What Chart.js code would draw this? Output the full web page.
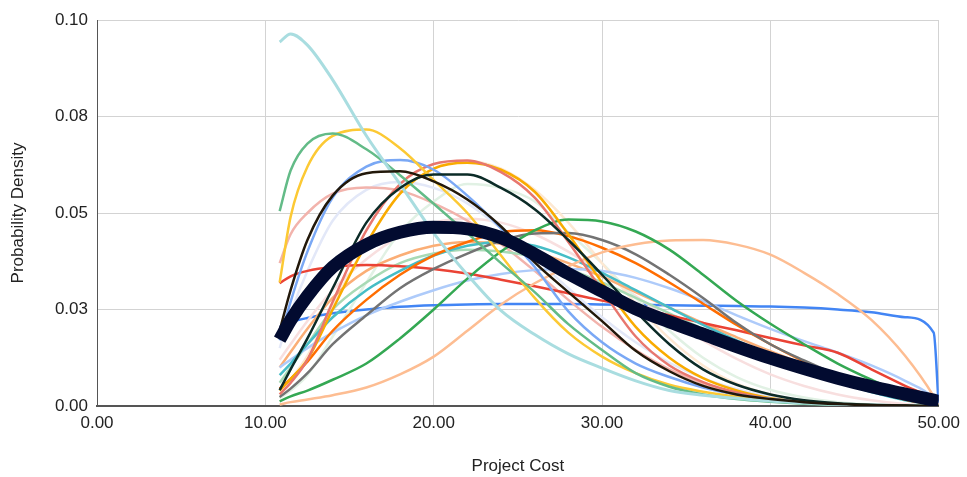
<!DOCTYPE html>
<html>
<head>
<meta charset="utf-8">
<script src="https://cdn.jsdelivr.net/npm/chart.js@4.4.1/dist/chart.umd.min.js"></script>
<style>
  html, body { margin: 0; padding: 0; background: #fff; }
  #wrap { width: 967px; height: 477px; }
</style>
</head>
<body>
<div id="wrap"><canvas id="cost"></canvas></div>
<script>
// project cost sample points
var costs = [10.85, 11.5, 12.5, 14, 16, 18, 20, 22, 24, 26, 28, 30, 32, 34, 36, 38, 40, 42, 44, 46, 48, 49.7, 50];

var yTickLabels = ['0.00', '0.03', '0.05', '0.08', '0.10'];

// density curves
var combined   = [0.0172, 0.0222, 0.0285, 0.0360, 0.0418, 0.0450, 0.0463, 0.0459, 0.0436, 0.0393, 0.0343, 0.0297, 0.0252, 0.0218, 0.0186, 0.0154, 0.0124, 0.0097, 0.0072, 0.0050, 0.0031, 0.0015, 0.0012];
var blueFlat   = [0.0205, 0.0217, 0.0228, 0.0240, 0.0250, 0.0257, 0.0261, 0.0263, 0.0264, 0.0264, 0.0264, 0.0263, 0.0262, 0.0261, 0.0260, 0.0259, 0.0258, 0.0255, 0.0250, 0.0243, 0.0230, 0.0190, 0.0000];
var peach      = [0.0004, 0.0010, 0.0017, 0.0028, 0.0048, 0.0082, 0.0128, 0.0195, 0.0263, 0.0318, 0.0362, 0.0398, 0.0419, 0.0429, 0.0430, 0.0418, 0.0392, 0.0345, 0.0290, 0.0223, 0.0130, 0.0025, 0.0000];
var green      = [0.0012, 0.0025, 0.0040, 0.0068, 0.0110, 0.0175, 0.0250, 0.0330, 0.0400, 0.0455, 0.0483, 0.0478, 0.0452, 0.0405, 0.0340, 0.0272, 0.0213, 0.0160, 0.0110, 0.0068, 0.0030, 0.0005, 0.0000];
var midGreen   = [0.0505, 0.0610, 0.0680, 0.0706, 0.0665, 0.0598, 0.0524, 0.0448, 0.0370, 0.0295, 0.0212, 0.0145, 0.0085, 0.0050, 0.0030, 0.0018, 0.0011, 0.0006, 0.0003, 0.0001, 0.0000, 0.0000, 0.0000];
var yellow     = [0.0320, 0.0490, 0.0620, 0.0700, 0.0716, 0.0668, 0.0585, 0.0500, 0.0390, 0.0280, 0.0190, 0.0128, 0.0085, 0.0055, 0.0037, 0.0024, 0.0015, 0.0009, 0.0005, 0.0002, 0.0001, 0.0000, 0.0000];
var cornflower = [0.0170, 0.0270, 0.0400, 0.0540, 0.0620, 0.0637, 0.0612, 0.0545, 0.0460, 0.0360, 0.0245, 0.0165, 0.0110, 0.0075, 0.0048, 0.0030, 0.0018, 0.0010, 0.0005, 0.0002, 0.0001, 0.0000, 0.0000];
var blackA     = [0.0195, 0.0300, 0.0430, 0.0545, 0.0603, 0.0608, 0.0582, 0.0535, 0.0465, 0.0372, 0.0295, 0.0220, 0.0143, 0.0090, 0.0052, 0.0030, 0.0018, 0.0010, 0.0005, 0.0002, 0.0001, 0.0000, 0.0000];
var blackB     = [0.0041, 0.0095, 0.0175, 0.0305, 0.0475, 0.0565, 0.0600, 0.0600, 0.0565, 0.0510, 0.0430, 0.0340, 0.0245, 0.0160, 0.0095, 0.0055, 0.0030, 0.0015, 0.0007, 0.0003, 0.0001, 0.0000, 0.0000];
var salmon     = [0.0030, 0.0060, 0.0120, 0.0270, 0.0455, 0.0575, 0.0627, 0.0636, 0.0606, 0.0540, 0.0425, 0.0300, 0.0180, 0.0105, 0.0062, 0.0035, 0.0018, 0.0009, 0.0004, 0.0002, 0.0001, 0.0000, 0.0000];
var amber      = [0.0040, 0.0070, 0.0120, 0.0250, 0.0420, 0.0550, 0.0615, 0.0630, 0.0612, 0.0555, 0.0445, 0.0320, 0.0205, 0.0125, 0.0072, 0.0040, 0.0020, 0.0010, 0.0004, 0.0002, 0.0001, 0.0000, 0.0000];
var pink       = [0.0370, 0.0445, 0.0500, 0.0550, 0.0566, 0.0558, 0.0525, 0.0480, 0.0420, 0.0350, 0.0275, 0.0205, 0.0145, 0.0095, 0.0058, 0.0034, 0.0019, 0.0010, 0.0005, 0.0002, 0.0001, 0.0000, 0.0000];
var red        = [0.0318, 0.0336, 0.0350, 0.0360, 0.0365, 0.0362, 0.0355, 0.0343, 0.0327, 0.0310, 0.0292, 0.0273, 0.0255, 0.0235, 0.0215, 0.0196, 0.0176, 0.0157, 0.0138, 0.0095, 0.0052, 0.0015, 0.0000];
var grey       = [0.0023, 0.0045, 0.0085, 0.0160, 0.0235, 0.0305, 0.0355, 0.0395, 0.0428, 0.0447, 0.0448, 0.0430, 0.0393, 0.0340, 0.0280, 0.0215, 0.0160, 0.0118, 0.0080, 0.0046, 0.0018, 0.0003, 0.0000];
var orange     = [0.0045, 0.0070, 0.0115, 0.0195, 0.0275, 0.0340, 0.0390, 0.0425, 0.0450, 0.0455, 0.0440, 0.0410, 0.0370, 0.0320, 0.0265, 0.0210, 0.0160, 0.0115, 0.0075, 0.0042, 0.0017, 0.0003, 0.0000];
var teal       = [0.0080, 0.0110, 0.0160, 0.0230, 0.0300, 0.0350, 0.0390, 0.0415, 0.0425, 0.0415, 0.0385, 0.0345, 0.0300, 0.0255, 0.0210, 0.0170, 0.0130, 0.0095, 0.0063, 0.0036, 0.0015, 0.0003, 0.0000];
var lightBlue  = [0.0100, 0.0120, 0.0150, 0.0190, 0.0235, 0.0270, 0.0300, 0.0325, 0.0342, 0.0352, 0.0355, 0.0350, 0.0332, 0.0305, 0.0272, 0.0235, 0.0200, 0.0168, 0.0138, 0.0105, 0.0065, 0.0020, 0.0000];
var lightGreen = [0.0060, 0.0100, 0.0160, 0.0250, 0.0320, 0.0370, 0.0395, 0.0405, 0.0400, 0.0385, 0.0355, 0.0320, 0.0280, 0.0240, 0.0200, 0.0162, 0.0128, 0.0096, 0.0066, 0.0040, 0.0018, 0.0004, 0.0000];
var lightOrange= [0.0100, 0.0140, 0.0200, 0.0280, 0.0350, 0.0390, 0.0415, 0.0425, 0.0420, 0.0400, 0.0370, 0.0335, 0.0295, 0.0255, 0.0215, 0.0178, 0.0142, 0.0108, 0.0076, 0.0046, 0.0020, 0.0004, 0.0000];
var cream      = [0.0040, 0.0070, 0.0130, 0.0260, 0.0420, 0.0550, 0.0615, 0.0635, 0.0615, 0.0560, 0.0475, 0.0370, 0.0265, 0.0175, 0.0105, 0.0058, 0.0030, 0.0014, 0.0006, 0.0002, 0.0001, 0.0000, 0.0000];
var paleGreen  = [0.0020, 0.0040, 0.0080, 0.0180, 0.0320, 0.0450, 0.0530, 0.0575, 0.0565, 0.0530, 0.0450, 0.0370, 0.0280, 0.0195, 0.0125, 0.0075, 0.0042, 0.0022, 0.0010, 0.0004, 0.0001, 0.0000, 0.0000];
var lavender   = [0.0150, 0.0240, 0.0350, 0.0480, 0.0560, 0.0580, 0.0565, 0.0525, 0.0460, 0.0385, 0.0305, 0.0230, 0.0165, 0.0112, 0.0072, 0.0044, 0.0025, 0.0013, 0.0006, 0.0002, 0.0001, 0.0000, 0.0000];
var palePink   = [0.0120, 0.0160, 0.0220, 0.0300, 0.0380, 0.0440, 0.0475, 0.0485, 0.0475, 0.0445, 0.0400, 0.0345, 0.0285, 0.0225, 0.0170, 0.0122, 0.0082, 0.0052, 0.0030, 0.0015, 0.0005, 0.0001, 0.0000];
var paleTeal   = [0.0943, 0.0964, 0.0935, 0.0845, 0.0700, 0.0575, 0.0448, 0.0340, 0.0247, 0.0185, 0.0135, 0.0098, 0.0065, 0.0040, 0.0028, 0.0020, 0.0013, 0.0008, 0.0004, 0.0002, 0.0001, 0.0000, 0.0000];

function pts(arr) {
  return arr.map(function (v, i) { return { x: costs[i], y: v }; });
}

function line(values, color, width) {
  return {
    data: pts(values),
    borderColor: color,
    backgroundColor: color,
    borderWidth: width || 2.5,
    pointRadius: 0,
    fill: false,
    cubicInterpolationMode: 'monotone'
  };
}

var labelFont = { family: 'Liberation Sans', size: 17 };

var ctx = document.getElementById('cost');
var chart = new Chart(ctx, {
  type: 'line',
  data: {
    datasets: [
      line(combined, '#020b30', 13),
      line(blackA, '#22180a', 2.5),
      line(blackB, '#0b2b27', 2.5),
      line(paleTeal, '#a9dde0', 3),
      line(midGreen, '#63bb87'),
      line(yellow, '#fcc934'),
      line(cornflower, '#7aa8f5'),
      line(salmon, '#e8776e'),
      line(amber, '#f9ab00'),
      line(green, '#34a853'),
      line(peach, '#fdbd92'),
      line(grey, '#737373'),
      line(orange, '#ff6d01'),
      line(teal, '#46bdc6'),
      line(red, '#ea4335'),
      line(lightBlue, '#aecbfa'),
      line(lightGreen, '#a8dab5'),
      line(lightOrange, '#fbae76'),
      line(pink, '#f2b3ac'),
      line(cream, '#fde8d2'),
      line(paleGreen, '#e1f1e4'),
      line(lavender, '#e3e8f8'),
      line(palePink, '#f8dfdf'),
      line(blueFlat, '#4285f4')
    ]
  },
  options: {
    responsive: true,
    maintainAspectRatio: false,
    animation: false,
    layout: { padding: { top: 20, right: 27, bottom: 0, left: 0 } },
    plugins: {
      legend: { display: false },
      tooltip: { enabled: false }
    },
    scales: {
      x: {
        type: 'linear',
        min: 0,
        max: 50,
        afterFit: function (s) { s.height = 71; },
        ticks: {
          stepSize: 10,
          padding: 7,
          color: '#222',
          font: labelFont,
          callback: function (v) { return Number(v).toFixed(2); }
        },
        grid: { color: '#d3d3d3', lineWidth: 1, drawTicks: false, tickLength: 0 },
        border: { color: '#555', width: 2 },
        title: {
          display: true,
          text: 'Project Cost',
          color: '#222',
          font: labelFont,
          padding: { top: 0, bottom: 0 }
        }
      },
      y: {
        min: 0,
        max: 0.1,
        afterFit: function (s) { s.width = 97; },
        ticks: {
          stepSize: 0.025,
          padding: 9,
          color: '#222',
          font: labelFont,
          callback: function (v, i) { return yTickLabels[i]; }
        },
        grid: { color: '#d3d3d3', lineWidth: 1, drawTicks: false, tickLength: 0 },
        border: { color: '#555', width: 1 },
        title: {
          display: true,
          text: 'Probability Density',
          color: '#222',
          font: labelFont,
          padding: { top: 8, bottom: 0 }
        }
      }
    }
  }
});
</script>
</body>
</html>
